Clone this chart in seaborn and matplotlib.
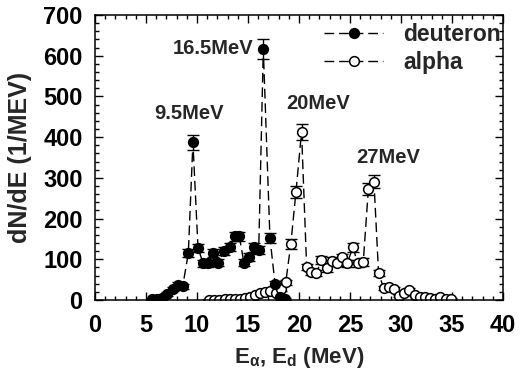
import numpy as np
import pandas as pd
import matplotlib
matplotlib.use("Agg")
import matplotlib.pyplot as plt
import seaborn as sns
from matplotlib.ticker import MultipleLocator

# ---- data ----
deut_E = [5.6, 6.1, 6.6, 7.1, 7.6, 8.1, 8.6, 9.15, 9.6, 10.1, 10.6, 11.1, 11.6, 12.1,
          12.65, 13.2, 13.7, 14.15, 14.6, 15.1, 15.6, 16.05, 16.5, 17.15, 17.65, 18.1, 18.6]
deut_N = [3, 3, 5, 15, 28, 38, 34, 115, 387, 128, 90, 90, 115, 92,
          121, 131, 156, 156, 92, 106, 129, 122, 616, 153, 40, 8, 3]
deut_err = [2, 2, 2, 4, 5, 6, 6, 10, 18, 10, 9, 9, 10, 9,
            10, 10, 12, 12, 9, 10, 10, 10, 25, 12, 6, 3, 2]

alpha_E = [11.2, 11.7, 12.2, 12.7, 13.2, 13.7, 14.2, 14.7, 15.2, 15.7, 16.2, 16.7, 17.2,
           17.7, 18.2, 18.7, 19.2, 19.7, 20.25, 20.75, 21.2, 21.7, 22.2, 22.7, 23.2,
           23.7, 24.25, 24.7, 25.3, 25.75, 26.3, 26.8, 27.35, 27.8, 28.3, 28.85, 29.35,
           29.85, 30.3, 30.8, 31.4, 31.9, 32.35, 32.8, 33.3, 33.8, 34.4, 34.9]
alpha_N = [1, 1, 1, 2, 2, 2, 3, 4, 7, 12, 16, 19, 23,
           16, 26, 43, 138, 265, 413, 81, 69, 66, 98, 78, 97,
           92, 105, 90, 129, 90, 93, 272, 290, 66, 29, 32, 27,
           10, 17, 25, 12, 8, 7, 4, 2, 8, 2, 2]
alpha_err = [1, 1, 1, 1, 1, 1, 2, 2, 3, 3, 4, 4, 5,
             4, 5, 6, 12, 15, 20, 8, 8, 8, 9, 8, 9,
             9, 9, 9, 12, 9, 9, 15, 16, 7, 5, 5, 5,
             3, 4, 5, 3, 3, 3, 2, 2, 3, 2, 2]

labels = ["9.5MeV", "16.5MeV", "20MeV", "27MeV"]
label_x = [9.2, 11.6, 21.9, 28.7]
label_y = [458, 618, 482, 351]

# ---- style ----
sns.set_style("ticks")
plt.rcParams["font.family"] = ["Liberation Sans", "DejaVu Sans"]
plt.rcParams["font.weight"] = "bold"
plt.rcParams["mathtext.fontset"] = "custom"
plt.rcParams["mathtext.rm"] = "Liberation Sans:bold"
plt.rcParams["mathtext.it"] = "Liberation Sans:bold"
plt.rcParams["mathtext.bf"] = "Liberation Sans:bold"

fig = plt.figure(figsize=(5.24, 3.79), dpi=100)
ax = fig.add_axes([95 / 524, 1 - 300 / 379, (503 - 95) / 524, (300 - 15) / 379])

df_a = pd.DataFrame({"E": alpha_E, "N": alpha_N})
df_d = pd.DataFrame({"E": deut_E, "N": deut_N})

# error bars underneath
ax.errorbar(alpha_E, alpha_N, yerr=alpha_err, fmt="none", ecolor="black",
            elinewidth=1, capsize=4, capthick=1, zorder=1)
ax.errorbar(deut_E, deut_N, yerr=deut_err, fmt="none", ecolor="black",
            elinewidth=1, capsize=4, capthick=1, zorder=1)

sns.lineplot(data=df_a, x="E", y="N", ax=ax, color="black", sort=False,
             marker="o", markersize=7, markerfacecolor="white",
             markeredgecolor="black", markeredgewidth=1.1, lw=1,
             label="alpha", zorder=2)
sns.lineplot(data=df_d, x="E", y="N", ax=ax, color="black", sort=False,
             marker="o", markersize=7, markerfacecolor="black",
             markeredgecolor="black", markeredgewidth=1.1, lw=1,
             label="deuteron", zorder=3)
for ln in ax.get_lines():
    if ln.get_marker() == "o":
        ln.set_color("black")
        ln.set_linestyle((0, (7, 3.5)))

ax.set_xlim(0, 40)
ax.set_ylim(0, 700)
ax.xaxis.set_major_locator(MultipleLocator(5))
ax.xaxis.set_minor_locator(MultipleLocator(1))
ax.yaxis.set_major_locator(MultipleLocator(100))
ax.yaxis.set_minor_locator(MultipleLocator(20))
ax.tick_params(which="both", direction="in", top=True, right=True,
               width=1, labelsize=17, colors="black")
ax.tick_params(axis="x", which="major", pad=10)
ax.tick_params(axis="y", which="major", pad=9)
ax.tick_params(which="major", length=6)
ax.tick_params(which="minor", length=3)
for lab in ax.get_xticklabels() + ax.get_yticklabels():
    lab.set_fontweight("bold")
for s in ax.spines.values():
    s.set_linewidth(1.1)
    s.set_color("black")

ax.set_xlabel(r"E$_{\alpha}$, E$_{d}$ (MeV)", fontsize=16, fontweight="bold", labelpad=6)
ax.set_ylabel("dN/dE (1/MEV)", fontsize=18, fontweight="bold", labelpad=8)

for t, x, y in zip(labels, label_x, label_y):
    ax.text(x, y, t, ha="center", va="center", fontsize=14.5, fontweight="bold")

h, l = ax.get_legend_handles_labels()
order = [l.index("deuteron"), l.index("alpha")]
for i in order:
    h[i].set_color("black")
    h[i].set_linestyle((0, (7, 3.5)))
leg = ax.legend([h[i] for i in order], [l[i] for i in order], loc="upper right",
                bbox_to_anchor=(1.0 - 2 / 408, 1.0 - 8 / 285), frameon=False,
                handlelength=2.6, handletextpad=0.87, borderaxespad=0.0,
                borderpad=0.0, labelspacing=0.2,
                prop={"weight": "bold", "size": 16.5})

fig.savefig("out.png", dpi=100)
